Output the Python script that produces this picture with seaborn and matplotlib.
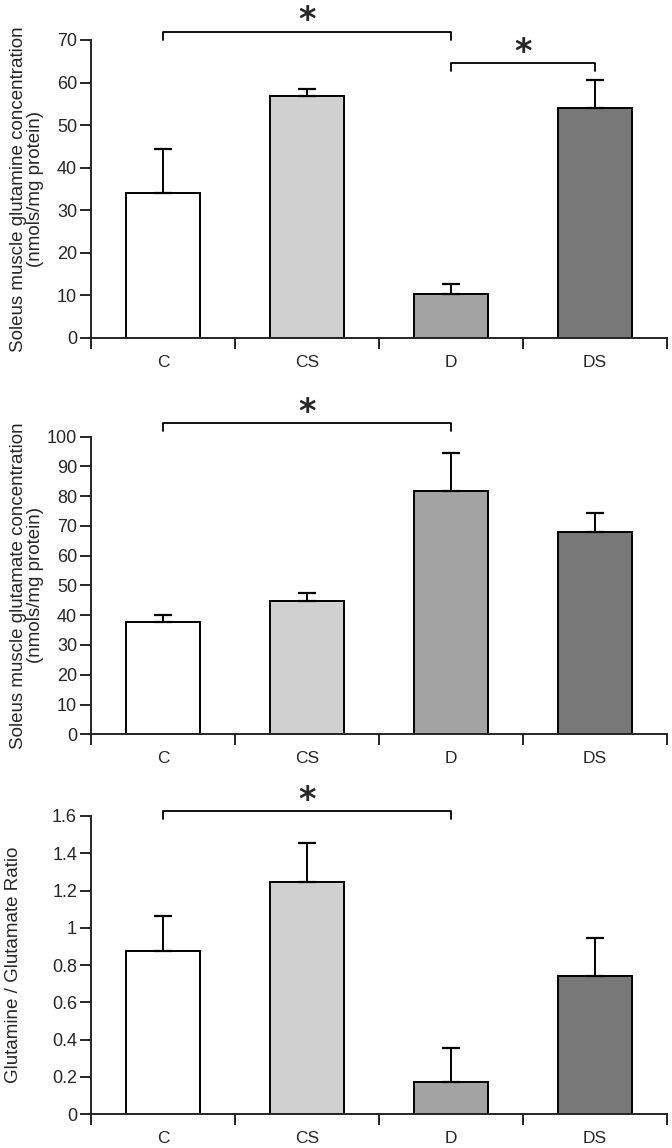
import numpy as np
import seaborn as sns
import matplotlib.pyplot as plt
import matplotlib.transforms as mtransforms
from matplotlib.ticker import FixedLocator

groups = ['C', 'CS', 'D', 'DS']
bar_colors = ['#ffffff', '#d0d0d0', '#a3a3a3', '#787878']

glutamine = [34.1, 56.9, 10.4, 53.9]
glutamine_err = [10.4, 1.6, 2.2, 6.6]

glutamate = [37.7, 44.9, 81.9, 67.9]
glutamate_err = [2.5, 2.7, 12.6, 6.4]

ratio = [0.876, 1.248, 0.173, 0.744]
ratio_err = [0.188, 0.209, 0.181, 0.200]

# significance brackets: (from group, to group, bracket height)
glutamine_sig = [(0, 2, 71.9), (2, 3, 64.6)]
glutamate_sig = [(0, 2, 104.5)]
ratio_sig = [(0, 2, 1.625)]

sns.set_style("ticks")
plt.rcParams['font.family'] = ['Liberation Sans', 'DejaVu Sans']

fig = plt.figure(figsize=(6.72, 11.48), dpi=100)
fig.patch.set_facecolor('white')

panels = [
    (glutamine, glutamine_err, glutamine_sig, 70, 10,
     'Soleus muscle glutamine concentration\n(nmols/mg protein)', 0.066,
     [0.1354, 0.7056, 0.8572, 0.2596]),
    (glutamate, glutamate_err, glutamate_sig, 100, 10,
     'Soleus muscle glutamate concentration\n(nmols/mg protein)', 0.066,
     [0.1354, 0.3604, 0.8572, 0.2592]),
    (ratio, ratio_err, ratio_sig, 1.6, 0.2,
     'Glutamine / Glutamate Ratio', 0.032,
     [0.1354, 0.0294, 0.8572, 0.2598]),
]

for vals, errs, sigs, ymax, step, ylabel, labx, rect in panels:
    ax = fig.add_axes(rect)
    sns.barplot(x=groups, y=vals, hue=groups, palette=bar_colors, legend=False,
                width=0.52, edgecolor='black', linewidth=1.4, saturation=1,
                errorbar=None, ax=ax)
    ax.errorbar(range(4), vals, yerr=[np.zeros(4), errs], fmt='none',
                ecolor='black', elinewidth=1.4, capsize=6.5, capthick=1.6,
                zorder=1)

    ax.set_xlim(-0.5, 3.5)
    ax.set_ylim(0, ymax)
    ticks = np.arange(0, ymax + step / 2, step)
    ax.set_yticks(ticks)
    ax.set_yticklabels(['{:g}'.format(round(t, 1)) for t in ticks])
    ax.xaxis.set_minor_locator(FixedLocator([-0.5, 0.5, 1.5, 2.5, 3.5]))
    ax.tick_params(axis='x', which='major', length=0, pad=12, labelsize=12.5)
    ax.tick_params(axis='x', which='minor', length=8, width=1.4, direction='out')
    ax.tick_params(axis='y', length=8, width=1.4, direction='out', pad=2,
                   labelsize=13)
    sns.despine(ax=ax)
    ax.spines['left'].set_linewidth(1.4)
    ax.spines['bottom'].set_linewidth(1.4)

    ax.set_ylabel(ylabel, fontsize=13.5, linespacing=1.05)
    ax.yaxis.set_label_coords(
        labx, 0.5, transform=mtransforms.blended_transform_factory(fig.transFigure, ax.transAxes))

    drop = ymax * 0.026
    for a, b, h in sigs:
        ax.plot([a, a, b, b], [h - drop, h, h, h - drop], color='black',
                lw=1.3, clip_on=False)
        ax.annotate('*', xy=((a + b) / 2, h), xytext=(0, 1), textcoords='offset points',
                    ha='center', va='baseline', fontsize=24, fontweight='bold',
                    family='DejaVu Sans', annotation_clip=False)

fig.savefig('out.png', dpi=100, facecolor='white')
